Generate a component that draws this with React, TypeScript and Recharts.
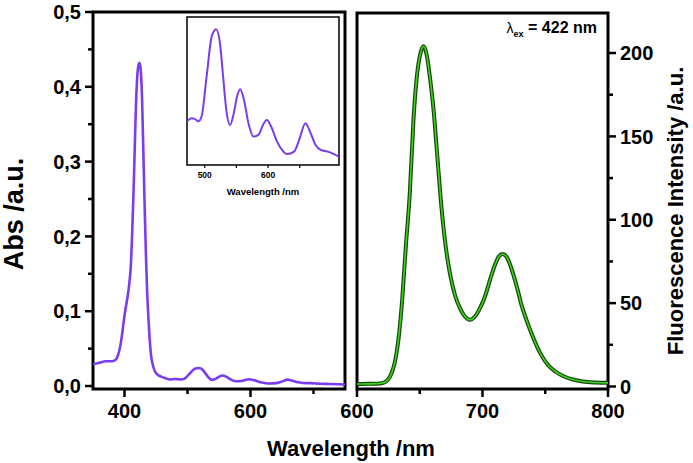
import { Customized, Line, LineChart, ReferenceArea, XAxis, YAxis } from "recharts";

const W = 693;
const H = 463;
const FONT = '"Liberation Sans", Arial, Helvetica, sans-serif';

// absorbance spectrum (nm, a.u.)
const absWavelength = [
  350, 360, 370, 380, 386, 390, 393, 396, 399, 402, 405, 408, 410, 412, 414, 416, 418, 420, 422, 424,
  426, 428, 430, 432, 434, 436, 438, 440, 442, 445, 448, 452, 458, 465, 472, 479, 484, 490, 495, 503,
  511, 518, 524, 529, 534, 540, 546, 551, 556, 562, 569, 577, 585, 592, 598, 605, 614, 622, 630, 641,
  649, 659, 667, 675, 683, 694, 704, 712, 725, 740, 750,
];
const absValue = [
  0.029, 0.031, 0.033, 0.033, 0.035, 0.042, 0.052, 0.068, 0.088, 0.105, 0.12, 0.14, 0.16, 0.2, 0.25,
  0.31, 0.37, 0.41, 0.428, 0.432, 0.42, 0.38, 0.31, 0.24, 0.175, 0.125, 0.09, 0.062, 0.042, 0.028,
  0.02, 0.0155, 0.0125, 0.0105, 0.0088, 0.0093, 0.0092, 0.0088, 0.0096, 0.0162, 0.0228, 0.024, 0.0217,
  0.0162, 0.0107, 0.0082, 0.0102, 0.0129, 0.0141, 0.0123, 0.0085, 0.0063, 0.0066, 0.0082, 0.009,
  0.0079, 0.0055, 0.0041, 0.0034, 0.0038, 0.0057, 0.0085, 0.0069, 0.0049, 0.0041, 0.0038, 0.0034,
  0.003, 0.0027, 0.0023, 0.002,
];

// fluorescence emission (nm, a.u.)
const fluoWavelength = [
  600, 610, 620, 624, 627, 630, 633, 636, 639, 642, 645, 648, 650, 653, 656, 658, 661, 664, 667, 670,
  674, 678, 682, 686, 690, 694, 698, 702, 706, 710, 713, 716, 719, 722, 725, 728, 731, 735, 740, 746,
  752, 758, 765, 772, 780, 790, 800,
];
const fluoValue = [
  1.5, 1.6, 2, 3.5, 7, 14, 28, 52, 85, 115, 160, 188, 198, 204, 197, 186, 166, 138, 110, 88, 68, 55,
  47, 42, 40, 42, 47, 54, 64, 73, 78, 79.5, 78, 73, 66, 58, 49, 40, 30, 20, 13, 9, 6, 4.2, 3, 2.4, 2.2,
];

const absXTicks = [400, 500, 600, 700];
const absXLabels = [400, 600];
const absYTicks = [0, 0.05, 0.1, 0.15, 0.2, 0.25, 0.3, 0.35, 0.4, 0.45, 0.5];
const absYLabels = [0, 0.1, 0.2, 0.3, 0.4, 0.5];
const insetXTicks = [500, 550, 600, 650];
const insetXLabels = [500, 600];
const fluoXTicks = [600, 650, 700, 750, 800];
const fluoXLabels = [600, 700, 800];
const fluoYTicks = [0, 25, 50, 75, 100, 125, 150, 175, 200];
const fluoYLabels = [0, 50, 100, 150, 200];

const absData = absWavelength.map((w, i) => ({ w, v: absValue[i] }));
const insetData = absData.filter((d) => d.w >= 472 && d.w <= 712);
const fluoData = fluoWavelength.map((w, i) => ({ w, v: fluoValue[i] }));

// plot boxes (axes take 1px so they still render)
const LEFT = { x0: 93, x1: 345, y0: 12, y1: 389 };
const RIGHT = { x0: 357, x1: 608, y0: 13, y1: 389 };
const INSET = { x0: 187, x1: 339, y0: 17, y1: 165 };
const marginL = (b: typeof LEFT) => ({ top: b.y0, left: b.x0 - 1, right: W - b.x1, bottom: H - b.y1 - 1 });
const marginR = (b: typeof LEFT) => ({ top: b.y0, left: b.x0, right: W - b.x1 - 1, bottom: H - b.y1 - 1 });

const PURPLE = "#7a3cf0";

const bottomTick =
  (labels: number[], major: number, minor: number, gap: number, size: number, sw: number) =>
  (p: any) => {
    const on = labels.includes(p.payload.value);
    return (
      <g>
        <line x1={p.x} x2={p.x} y1={p.y} y2={p.y + (on ? major : minor)} stroke="#000" strokeWidth={sw} />
        {on && (
          <text x={p.x} y={p.y + gap} textAnchor="middle" fontSize={size} fontWeight="bold" fontFamily={FONT} fill="#000">
            {p.payload.value}
          </text>
        )}
      </g>
    );
  };

const sideTick =
  (labels: number[], side: 1 | -1, fmt: (v: number) => string) =>
  (p: any) => {
    const on = labels.includes(p.payload.value);
    return (
      <g>
        <line x1={p.x} x2={p.x + side * (on ? 8 : 5)} y1={p.y} y2={p.y} stroke="#000" strokeWidth={2.5} />
        {on && (
          <text
            x={p.x + side * 12}
            y={p.y}
            dy="0.36em"
            textAnchor={side < 0 ? "end" : "start"}
            fontSize={20}
            fontWeight="bold"
            fontFamily={FONT}
            fill="#000"
          >
            {fmt(p.payload.value)}
          </text>
        )}
      </g>
    );
  };

const Titles = () => (
  <g fontFamily={FONT} fontWeight="bold" fill="#000">
    <text x={(LEFT.x1 + RIGHT.x0) / 2} y={LEFT.y1 + 67} textAnchor="middle" fontSize={22}>
      Wavelength /nm
    </text>
    <text transform={`translate(23, 214) rotate(-90)`} textAnchor="middle" fontSize={27}>
      Abs /a.u.
    </text>
    <text transform={`translate(683, 211) rotate(-90)`} textAnchor="middle" fontSize={22}>
      Fluorescence Intensity /a.u.
    </text>
    <text x={597} y={33} textAnchor="end" fontSize={16}>
      <tspan fontSize={14} fontWeight="normal">λ</tspan>
      <tspan fontSize={9} dy={4}>ex</tspan>
      <tspan dy={-4}> = 422 nm</tspan>
    </text>
  </g>
);

const layer: React.CSSProperties = { position: "absolute", left: 0, top: 0 };

export default function App() {
  return (
    <div style={{ position: "absolute", left: 0, top: 0, width: W, height: H, background: "#fff" }}>
      <div style={layer}>
        <LineChart width={W} height={H} data={absData} margin={marginL(LEFT)}>
          <XAxis
            type="number"
            dataKey="w"
            domain={[350, 750]}
            ticks={absXTicks}
            interval={0}
            height={1}
            tickSize={0}
            tickMargin={0}
            axisLine={false}
            tickLine={false}
            allowDataOverflow
            tick={bottomTick(absXLabels, 8, 5, 29, 20, 2.5)}
          />
          <YAxis
            type="number"
            domain={[-0.004, 0.5]}
            ticks={absYTicks}
            interval={0}
            width={1}
            tickSize={0}
            tickMargin={0}
            axisLine={false}
            tickLine={false}
            allowDataOverflow
            tick={sideTick(absYLabels, -1, (v) => v.toFixed(1).replace(".", ","))}
          />
          <ReferenceArea x1={350} x2={750} y1={-0.004} y2={0.5} fill="none" stroke="#000" strokeWidth={3} />
          <Line type="monotone" dataKey="v" stroke={PURPLE} strokeWidth={2.6} dot={false} isAnimationActive={false} />
        </LineChart>
      </div>

      <div style={layer}>
        <LineChart width={W} height={H} data={fluoData} margin={marginR(RIGHT)}>
          <XAxis
            type="number"
            dataKey="w"
            domain={[600, 800]}
            ticks={fluoXTicks}
            interval={0}
            height={1}
            tickSize={0}
            tickMargin={0}
            axisLine={false}
            tickLine={false}
            tick={bottomTick(fluoXLabels, 8, 5, 29, 20, 2.5)}
          />
          <YAxis
            type="number"
            orientation="right"
            domain={[-1.5, 224]}
            ticks={fluoYTicks}
            interval={0}
            width={1}
            tickSize={0}
            tickMargin={0}
            axisLine={false}
            tickLine={false}
            allowDataOverflow
            tick={sideTick(fluoYLabels, 1, (v) => String(v))}
          />
          <ReferenceArea x1={600} x2={800} y1={-1.5} y2={224} fill="none" stroke="#000" strokeWidth={3} />
          <Line type="monotone" dataKey="v" stroke="#14470b" strokeWidth={4} dot={false} isAnimationActive={false} />
          <Line type="monotone" dataKey="v" stroke="#3fd01c" strokeWidth={1.6} dot={false} isAnimationActive={false} />
          <Customized component={Titles} />
        </LineChart>
      </div>

      <div style={layer}>
        <LineChart width={W} height={H} data={insetData} margin={marginL(INSET)}>
          <XAxis
            type="number"
            dataKey="w"
            domain={[472, 712]}
            ticks={insetXTicks}
            interval={0}
            height={1}
            tickSize={0}
            tickMargin={0}
            axisLine={false}
            tickLine={false}
            allowDataOverflow
            tick={bottomTick(insetXLabels, 3, 3, 13, 8.5, 1.2)}
          />
          <YAxis type="number" domain={[0.0016, 0.026]} width={1} tick={false} axisLine={false} tickLine={false} allowDataOverflow />
          <ReferenceArea x1={472} x2={712} y1={0.0016} y2={0.026} fill="#fff" fillOpacity={1} stroke="#000" strokeWidth={1.5} />
          <Line type="monotone" dataKey="v" stroke={PURPLE} strokeWidth={2} dot={false} isAnimationActive={false} />
          <Customized
            component={() => (
              <text
                x={(INSET.x0 + INSET.x1) / 2}
                y={INSET.y1 + 30}
                textAnchor="middle"
                fontSize={9.5}
                fontWeight="bold"
                fontFamily={FONT}
                fill="#000"
              >
                Wavelength /nm
              </text>
            )}
          />
        </LineChart>
      </div>
    </div>
  );
}
